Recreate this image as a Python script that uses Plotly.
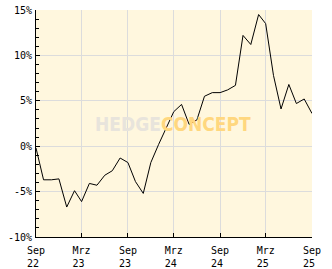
import plotly.graph_objects as go
import pandas as pd

months = pd.date_range("2022-09-01", "2025-09-01", freq="MS").strftime("%Y-%m-%d").tolist()
values = [-0.2, -3.7, -3.7, -3.6, -6.7, -4.9, -6.1, -4.1, -4.3, -3.2, -2.7, -1.3, -1.8,
          -3.9, -5.2, -1.8, 0.2, 2.1, 3.8, 4.6, 2.4, 2.9, 5.5, 5.9, 5.9, 6.2, 6.7,
          12.2, 11.2, 14.5, 13.5, 7.8, 4.1, 6.8, 4.7, 5.2, 3.6]

xtick_vals = ["2022-09-01", "2023-03-01", "2023-09-01", "2024-03-01", "2024-09-01", "2025-03-01", "2025-09-01"]
xtick_text = ["Sep<br>22\u00a0", "Mrz<br>23\u00a0", "Sep<br>23\u00a0", "Mrz<br>24\u00a0",
              "Sep<br>24\u00a0", "Mrz<br>25\u00a0", "Sep<br>25\u00a0"]
ytick_vals = [-10, -5, 0, 5, 10, 15]
ytick_text = ["-10%", "-5%", "0%", "5%", "10%", "15%"]

fig = go.Figure()
fig.add_trace(go.Scatter(x=months, y=values, mode="lines",
                         line=dict(color="black", width=1), hoverinfo="skip"))

tickfont = dict(family="DejaVu Sans Mono", size=10, color="black")
fig.update_layout(
    width=332, height=269,
    margin=dict(l=36, r=20, t=10, b=32, autoexpand=False),
    paper_bgcolor="white", plot_bgcolor="#fff7de",
    showlegend=False,
    xaxis=dict(range=["2022-09-01", "2025-09-01"], tickvals=xtick_vals, ticktext=xtick_text,
               showgrid=True, gridcolor="#dcdcdc", gridwidth=1,
               showline=True, linecolor="black", linewidth=1, automargin=False,
               ticks="inside", ticklen=4, tickcolor="black", ticklabelstandoff=4,
               tickfont=tickfont, zeroline=False, fixedrange=True),
    yaxis=dict(range=[-10, 15], tickvals=ytick_vals, ticktext=ytick_text,
               showgrid=True, gridcolor="#dcdcdc", gridwidth=1,
               showline=True, linecolor="black", linewidth=1, automargin=False,
               ticks="inside", ticklen=4, tickcolor="black", ticklabelstandoff=1,
               minor=dict(dtick=1, ticks="inside", ticklen=3, tickcolor="black", showgrid=False),
               tickfont=tickfont, zeroline=False, fixedrange=True),
    annotations=[dict(
        x=0.497, y=0.50, xref="paper", yref="paper", showarrow=False,
        text="<b><span style='color:#e8e4dc'>HEDGE</span><span style='color:#ffd77f'>CONCEPT</span></b>",
        font=dict(family="DejaVu Sans Condensed", size=19),
        xanchor="center", yanchor="middle")],
)
fig.write_html("out.html")
